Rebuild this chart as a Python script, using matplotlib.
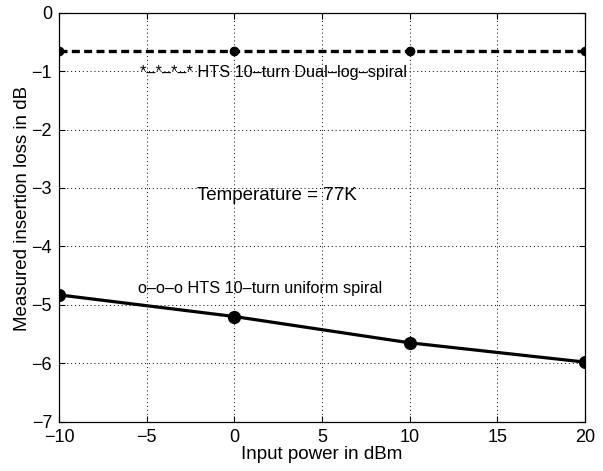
import matplotlib
matplotlib.use("Agg")
import matplotlib.pyplot as plt

power = [-10, 0, 10, 20]
dual_log = [-0.65, -0.65, -0.65, -0.65]
uniform = [-4.83, -5.20, -5.65, -5.98]
xticks = [-10, -5, 0, 5, 10, 15, 20]
yticks = [0, -1, -2, -3, -4, -5, -6, -7]

plt.rcParams['font.family'] = ['Liberation Sans', 'DejaVu Sans']
plt.rcParams['axes.unicode_minus'] = True
fig = plt.figure(figsize=(6.03, 4.71), dpi=100)
ax = fig.add_axes([0.0978, 0.1047, 0.8723, 0.8684])

ax.plot(power, dual_log, color='black', linestyle=(0, (2.4, 1.3)), linewidth=2.4,
        marker='o', markersize=6, zorder=3)
ax.plot(power, uniform, color='black', linestyle='-', linewidth=2.3,
        marker='o', markersize=8.5, zorder=3)

ax.set_xlim(-10, 20)
ax.set_ylim(-7, 0)
ax.set_xticks(xticks)
ax.set_yticks(yticks)
ax.grid(True, color='black', linestyle=(0, (1, 3)), linewidth=0.7)
ax.tick_params(direction='in', labelsize=13, length=4, width=0.8, pad=5,
               top=True, right=True)
for s in ax.spines.values():
    s.set_linewidth(0.9)

ax.set_xlabel('Input power in dBm', fontsize=13.5, labelpad=0)
ax.set_ylabel('Measured insertion loss in dB', fontsize=13.5)
ax.yaxis.set_label_coords(-0.054, 0.522)

ax.text(-5.39, -1.02, '*–*–*–* HTS 10–turn Dual–log–spiral', fontsize=11.7, va='center')
ax.text(-2.15, -3.13, 'Temperature = 77K', fontsize=13.5, va='center')
ax.text(-5.47, -4.72, 'o–o–o HTS 10–turn uniform spiral', fontsize=11.7, va='center')

fig.savefig('out.png', dpi=100)
